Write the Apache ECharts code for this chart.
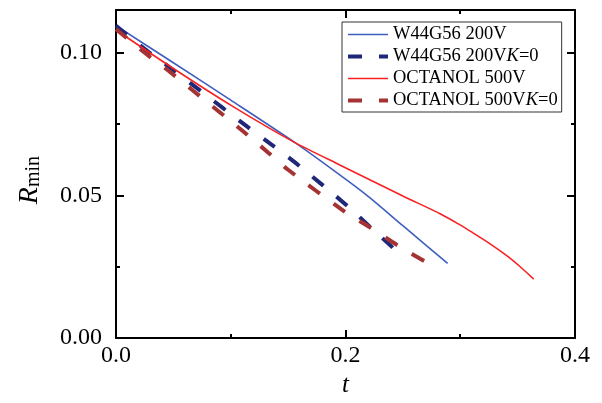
<!DOCTYPE html>
<html>
<head>
<meta charset="utf-8">
<script src="https://cdn.jsdelivr.net/npm/echarts@6/dist/echarts.min.js"></script>
<style>html,body{margin:0;padding:0;background:#fff}#c{width:602px;height:403px}</style>
</head>
<body>
<div id="c"></div>
<script>
// Data: [t, Rmin]
var seriesNames = ['W44G56 200V', 'W44G56 200VK=0', 'OCTANOL 500V', 'OCTANOL 500VK=0'];
var w44Solid = [[0,0.1095],[0.05,0.0965],[0.1,0.0834],[0.156,0.0685],[0.195,0.0572],[0.22,0.0496],[0.25,0.0394],[0.289,0.0262]];
var w44K0 = [[0,0.1095],[0.026,0.101],[0.049,0.0942],[0.0706,0.0876],[0.1144,0.0741],[0.137,0.0674],[0.159,0.0606],[0.202,0.0462],[0.223,0.0384],[0.2475,0.0294]];
var octSolid = [[0,0.108],[0.05,0.0945],[0.101,0.0814],[0.156,0.0685],[0.195,0.0607],[0.25,0.0498],[0.2824,0.0436],[0.2998,0.0397],[0.311,0.0369],[0.325,0.0333],[0.3405,0.0289],[0.352,0.0251],[0.364,0.0207]];
var octK0 = [[0,0.1083],[0.025,0.1],[0.047,0.0933],[0.067,0.0868],[0.111,0.0724],[0.1327,0.065],[0.15,0.059],[0.2,0.0441],[0.221,0.0389],[0.2466,0.0322],[0.27,0.0267],[0.276,0.0255]];
var xTicks = [0, 0.2, 0.4];
var yTicks = [0, 0.05, 0.10];

var FONT = 'Liberation Serif';
var COLORS = ['#3f5fbf', '#1f2878', '#f82222', '#a63333'];
var WIDTHS = [1.6, 4, 1.6, 4];
var DASH = [14, 17];
var chart = echarts.init(document.getElementById('c'));
function axisCommon() {
  return {
    axisLine: {show: true, onZero: false, lineStyle: {color: '#000', width: 2}},
    axisTick: {show: true, inside: true, length: 8, lineStyle: {color: '#000', width: 2}},
    minorTick: {show: true, splitNumber: 2, length: 4, lineStyle: {color: '#000', width: 2}},
    splitLine: {show: false},
    minorSplitLine: {show: false}
  };
}
var datasets = [w44Solid, w44K0, octSolid, octK0];
var series = seriesNames.map(function (n, i) {
  return {
    name: n, type: 'line', data: datasets[i], smooth: 0.25, symbol: 'none',
    lineStyle: {color: COLORS[i], width: WIDTHS[i], type: (i % 2) ? DASH : 'solid'},
    itemStyle: {color: COLORS[i]}
  };
});
var legendData = seriesNames.map(function (n, i) {
  return {name: n, lineStyle: {color: COLORS[i], width: WIDTHS[i], type: (i % 2) ? DASH : 'solid'}};
});
chart.setOption({
  animation: false,
  backgroundColor: '#fff',
  grid: {left: 116, right: 27, top: 10, bottom: 63},
  legend: {
    orient: 'vertical', left: 342, top: 22,
    padding: [3, 4, 2, 4], itemGap: 3, itemWidth: 40, itemHeight: 14,
    borderColor: '#333', borderWidth: 1, backgroundColor: '#fff',
    itemStyle: {opacity: 0},
    textStyle: {fontFamily: FONT, fontSize: 18.5, color: '#000',
      rich: {n: {fontFamily: FONT, fontSize: 18.5, color: '#000'}, i: {fontFamily: FONT, fontSize: 18.5, fontStyle: 'italic', color: '#000'}}},
    formatter: function (name) {
      if (name.slice(-3) === 'K=0') {
        return '{n|' + name.slice(0, -3) + '}{i|K}{n|=0}';
      }
      return '{n|' + name + '}';
    },
    data: legendData
  },
  xAxis: [
    Object.assign(axisCommon(), {
      type: 'value', min: 0, max: 0.4, interval: 0.2, position: 'bottom',
      name: 't', nameLocation: 'middle', nameGap: 30,
      nameTextStyle: {fontFamily: FONT, fontSize: 25, fontStyle: 'italic', color: '#000'},
      axisLabel: {show: true, fontFamily: FONT, fontSize: 24, color: '#000', margin: 6,
        formatter: function (v) { return xTicks.indexOf(Math.round(v * 10) / 10) >= 0 ? v.toFixed(1) : ''; }}
    }),
    Object.assign(axisCommon(), {
      type: 'value', min: 0, max: 0.4, interval: 0.2, position: 'top', axisLabel: {show: false}
    })
  ],
  yAxis: [
    Object.assign(axisCommon(), {
      type: 'value', min: 0, max: 0.115, interval: 0.05, position: 'left',
      name: '{r|R}{s|min}', nameLocation: 'middle', nameGap: 72, nameRotate: 90,
      nameTextStyle: {color: '#000', padding: [0, 12, 0, 0], rich: {
        r: {fontFamily: FONT, fontSize: 28, fontStyle: 'italic', color: '#000', lineHeight: 32, verticalAlign: 'bottom'},
        s: {fontFamily: FONT, fontSize: 20, color: '#000', lineHeight: 15, verticalAlign: 'bottom'}
      }},
      axisLabel: {show: true, fontFamily: FONT, fontSize: 24, color: '#000', margin: 14, showMaxLabel: false,
        formatter: function (v) { var r = Math.round(v * 100) / 100; return (Math.abs(r - v) < 1e-9 && yTicks.indexOf(r) >= 0) ? v.toFixed(2) : ''; }}
    }),
    Object.assign(axisCommon(), {
      type: 'value', min: 0, max: 0.115, interval: 0.05, position: 'right', axisLabel: {show: false}
    })
  ],
  series: series
});
</script>
</body>
</html>
